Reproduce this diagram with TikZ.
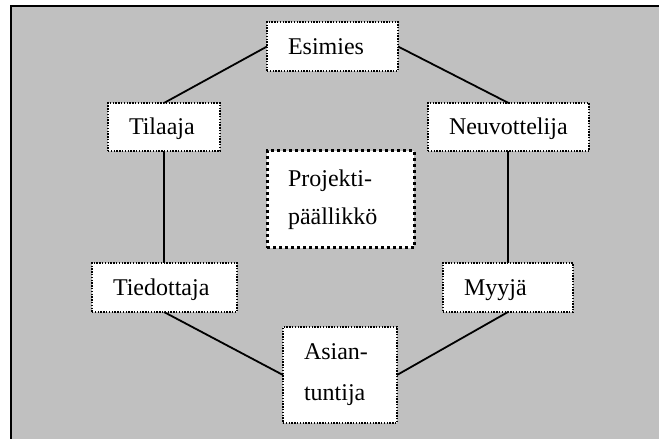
\documentclass[tikz,border=0pt]{standalone}
\usepackage{fontspec}
\setmainfont{Liberation Serif}
\definecolor{panelgray}{RGB}{192,192,192}
\begin{document}
\begin{tikzpicture}[x=1bp,y=-1bp,
  boxbase/.style={draw, fill=white, align=left, inner xsep=21bp, inner ysep=0pt,
    outer sep=0pt},
  role/.style={boxbase, line width=1.4bp, dash pattern=on 1.4bp off 1.4bp,
    font=\fontsize{24bp}{28bp}\selectfont, text height=19bp, text depth=3.8bp},
  tworole/.style={boxbase, line width=1.4bp, dash pattern=on 1.4bp off 1.4bp},
  leadrole/.style={boxbase, line width=3bp, dash pattern=on 3bp off 3bp},
  link/.style={line width=1.8bp, black}]
  \useasboundingbox (0,0) rectangle (659,439);
  \clip (0,0) rectangle (659,439);
  % grey panel with its frame
  \draw[fill=panelgray, line width=2bp] (11,6) rectangle (690,470);

  % roles
  \node[role, text width=89bp, minimum height=49bp] (esimies) at (332.5,46.5) {Esimies};
  \node[role, text width=70bp, minimum height=48bp] (tilaaja) at (164,127) {Tilaaja};
  \node[role, text width=119bp, minimum height=48bp] (neuvottelija) at (508.5,127) {Neuvottelija};
  \node[leadrole, text width=105bp, minimum height=97bp,
    font=\fontsize{24bp}{38bp}\selectfont] (projekti) at (340.5,199.5) {Projekti-\\päällikkö};
  \node[role, text width=103bp, minimum height=49bp] (tiedottaja) at (164.5,287.5) {Tiedottaja};
  \node[role, text width=88bp, minimum height=49bp] (myyja) at (508,287.5) {Myyjä};
  \node[tworole, text width=72bp, minimum height=96bp,
    font=\fontsize{24bp}{41bp}\selectfont] (asiantuntija) at (340,375) {Asian-\\tuntija};

  % ring of connections
  \draw[link] (esimies.west) -- (tilaaja.north);
  \draw[link] (esimies.east) -- (neuvottelija.north);
  \draw[link] (tilaaja.south) -- (tilaaja.south |- tiedottaja.north);
  \draw[link] (myyja.north |- neuvottelija.south) -- (myyja.north);
  \draw[link] (tilaaja.south |- tiedottaja.south) -- (asiantuntija.west);
  \draw[link] (myyja.south) -- (asiantuntija.east);
\end{tikzpicture}
\end{document}
